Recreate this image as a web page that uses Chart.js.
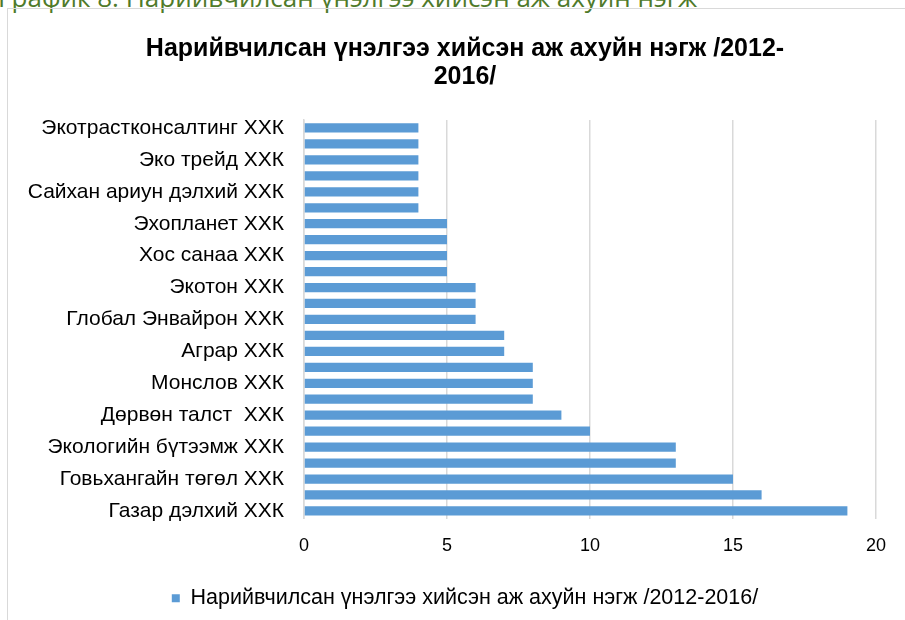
<!DOCTYPE html>
<html>
<head>
<meta charset="utf-8">
<script src="https://cdn.jsdelivr.net/npm/chart.js@4/dist/chart.umd.min.js"></script>
<style>
  html, body { margin: 0; padding: 0; background: #fff; overflow: hidden; width: 905px; height: 620px; }
  #caption {
    position: absolute; left: -2px; top: -16px; line-height: 26px;
    font-family: "Open Sans", sans-serif; font-size: 26px; color: #4f7a2a;
    white-space: nowrap;
  }
  #frame {
    position: absolute; left: 7px; top: 8px; width: 920px; height: 640px;
    border: 1px solid #d9d9d9;
  }
  #wrap { position: absolute; left: 0; top: 0; width: 920px; height: 620px; }
</style>
</head>
<body>
<div id="caption">График 8. Нарийвчилсан үнэлгээ хийсэн аж ахуйн нэгж</div>
<div id="frame"></div>
<div id="wrap"><canvas id="chart"></canvas></div>
<script>
// categories top to bottom; only every other one is labelled in the source
const companies = [
    'Экотрастконсалтинг ХХК', '',
    'Эко трейд ХХК', '',
    'Сайхан ариун дэлхий ХХК', '',
    'Эхопланет ХХК', '',
    'Хос санаа ХХК', '',
    'Экотон ХХК', '',
    'Глобал Энвайрон ХХК', '',
    'Аграр ХХК', '',
    'Монслов ХХК', '',
    'Дөрвөн талст  ХХК', '',
    'Экологийн бүтээмж ХХК', '',
    'Говьхангайн төгөл ХХК', '',
    'Газар дэлхий ХХК'
];
const assessments = [4, 4, 4, 4, 4, 4, 5, 5, 5, 5, 6, 6, 6, 7, 7, 8, 8, 8, 9, 10, 13, 13, 15, 16, 19];
const xTicks = [0, 5, 10, 15, 20];
const seriesName = 'Нарийвчилсан үнэлгээ хийсэн аж ахуйн нэгж /2012-2016/';
const titleLines = ['Нарийвчилсан үнэлгээ хийсэн аж ахуйн нэгж /2012-', '2016/'];

const FONT = '"Liberation Sans", Arial, sans-serif';
Chart.defaults.font.family = FONT;
Chart.defaults.color = '#000';

new Chart(document.getElementById('chart'), {
    type: 'bar',
    data: {
        labels: companies,
        datasets: [{
            label: seriesName,
            data: assessments,
            backgroundColor: '#5b9bd5',
            borderWidth: 0,
            barPercentage: 0.58,
            categoryPercentage: 1.0
        }]
    },
    options: {
        indexAxis: 'y',
        responsive: true,
        maintainAspectRatio: false,
        animation: false,
        layout: { padding: { left: 20, right: 10, top: 0, bottom: 1 } },
        plugins: {
            title: {
                display: true,
                text: titleLines,
                font: { size: 25, weight: 'bold', lineHeight: 1.12 },
                color: '#000',
                padding: { top: 35, bottom: 29 }
            },
            legend: {
                display: true,
                position: 'bottom',
                labels: {
                    boxWidth: 8, boxHeight: 8,
                    font: { size: 21.5 },
                    color: '#000',
                    padding: 12
                }
            },
            tooltip: { enabled: false }
        },
        scales: {
            x: {
                min: 0, max: 20,
                afterBuildTicks: (scale) => { scale.ticks = xTicks.map(v => ({ value: v })); },
                afterFit: (scale) => { scale.height += 3; },
                grid: { color: '#d9d9d9', lineWidth: 1.5, drawTicks: false },
                border: { display: false },
                ticks: { font: { size: 18 }, padding: 16, color: '#000' }
            },
            y: {
                grid: { display: false, drawTicks: false },
                border: { color: '#d9d9d9', width: 1.5 },
                afterFit: (scale) => { scale.width = 284; },
                ticks: { autoSkip: false, font: { size: 21 }, padding: 20, color: '#000' }
            },
            // empty right-hand spacer so the title and legend centre where the source has them
            spacer: {
                axis: 'y',
                type: 'linear',
                position: 'right',
                grid: { display: false, drawTicks: false },
                border: { display: false },
                ticks: { display: false },
                afterFit: (scale) => { scale.width = 34; }
            }
        }
    }
});
</script>
</body>
</html>
